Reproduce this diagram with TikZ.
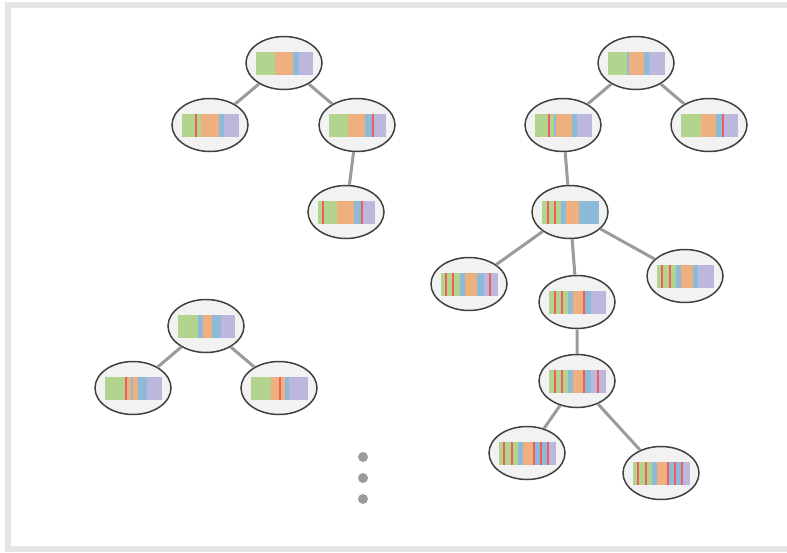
\documentclass[tikz,border=0pt]{standalone}
\usetikzlibrary{shapes.geometric}
\definecolor{cg}{HTML}{B3D48E}
\definecolor{co}{HTML}{EEB07E}
\definecolor{cb}{HTML}{8DBAD9}
\definecolor{cp}{HTML}{BCB7DC}
\definecolor{cr}{HTML}{F25C5C}
\definecolor{nodefill}{HTML}{F2F2F2}
\definecolor{nodeline}{HTML}{404040}
\definecolor{edgecol}{HTML}{9B9B9B}
\definecolor{framecol}{HTML}{E6E6E6}
\tikzset{
  seqnode/.style={ellipse, draw=nodeline, fill=nodefill, line width=1.5pt,
    minimum width=76pt, minimum height=53pt, inner sep=0pt},
  link/.style={draw=edgecol, line width=3pt},
  dot/.style={circle, fill=edgecol, minimum size=10pt, inner sep=0pt},
}
% colour bar inside a node: segments given as start/end/colour in px (bar is 57 wide)
\newcommand{\seqbar}[2]{%
  \begin{scope}[shift={(#1.center)}]
    \foreach \a/\b/\c in {#2}
      \fill[\c] (\a-28.5,-11.5) rectangle (\b-28.5,11.5);
  \end{scope}}
\begin{document}
\begin{tikzpicture}[x=1pt,y=-1pt]
\useasboundingbox (0,0) rectangle (787,552);
\begin{scope}
  \clip (0,0) rectangle (787,552);
  \draw[framecol, line width=6pt] (8,5) rectangle (830,549);
\end{scope}

% nodes
\node[seqnode] (n1) at (284,63) {};
\node[seqnode] (n2) at (210,125) {};
\node[seqnode] (n3) at (357,125) {};
\node[seqnode] (n4) at (346,212) {};
\node[seqnode] (n5) at (636,63) {};
\node[seqnode] (n6) at (563,125) {};
\node[seqnode] (n7) at (709,125) {};
\node[seqnode] (n8) at (570,212) {};
\node[seqnode] (n9) at (469,284) {};
\node[seqnode] (n10) at (577,302) {};
\node[seqnode] (n11) at (685,276) {};
\node[seqnode] (n12) at (577,381) {};
\node[seqnode] (n13) at (527,453) {};
\node[seqnode] (n14) at (661,473) {};
\node[seqnode] (n15) at (206,326) {};
\node[seqnode] (n16) at (133,388) {};
\node[seqnode] (n17) at (279,388) {};

% tree edges, node to node
\path[link] (n1) -- (n2) (n1) -- (n3) (n3) -- (n4)
  (n5) -- (n6) (n5) -- (n7) (n6) -- (n8)
  (n8) -- (n9) (n8) -- (n10) (n8) -- (n11)
  (n10) -- (n12) (n12) -- (n13) (n12) -- (n14)
  (n15) -- (n16) (n15) -- (n17);

% bars
\seqbar{n1}{0/19/cg,19/37/co,37/43/cb,43/57/cp}
\seqbar{n2}{0/19/cg,13/15/cr,19/37/co,37/42/cb,42/57/cp}
\seqbar{n3}{0/19/cg,19/36/co,36/43/cb,43/57/cp,43/45/cr}
\seqbar{n4}{0/19/cg,4.3/6.5/cr,19/36/co,36/43/cb,43/57/cp,43/45/cr}
\seqbar{n5}{0/19/cg,19/21/cb,21/36/co,36/41/cb,41/57/cp}
\seqbar{n6}{0/19/cg,13/15/cr,19/21/cb,21/37/co,37/42/cb,42/57/cp}
\seqbar{n7}{0/20/cg,20/35/co,35/41/cb,41/57/cp,41/43/cr}
\seqbar{n8}{0/19/cg,5.5/7.5/cr,12.5/14.5/cr,19/24.5/cb,24.5/37.5/co,37.5/57/cb}
\seqbar{n9}{0/19/cg,4.7/6.7/cr,11.7/13.7/cr,19/24/cb,24/36/co,36/43/cb,43/57/cp,48.5/50.5/cr}
\seqbar{n10}{0/19/cg,5/7/cr,12.7/14.7/cr,19/24/cb,24/34/co,34/36/cr,36/42/cb,42/57/cp}
\seqbar{n11}{0/19/cg,4.5/6.5/cr,12/14/cr,19/24/cb,24/36/co,36/41/cb,41/57/cp}
\seqbar{n12}{0/19/cg,5/7/cr,12.7/14.7/cr,19/24/cb,24/34/co,34/36/cr,36/42/cb,42/57/cp,48.5/50.5/cr}
\seqbar{n13}{0/19/cg,4.7/6.7/cr,12/14/cr,19/24/cb,24/34/co,34/36/cr,36/41/cb,41/43/cr,43/48/cb,48/50/cr,50/57/cp}
\seqbar{n14}{0/19/cg,4.7/6.7/cr,12/14/cr,19/24/cb,24/34/co,34/36/cr,36/41/cb,41/43/cr,43/48/cb,48/50/cr,50/57/cp}
\seqbar{n15}{0/20/cg,20/25/cb,25/34/co,34/43/cb,43/57/cp}
\seqbar{n16}{0/20/cg,20/22/cr,22/26/co,26/28/cb,28/33/co,33/42/cb,42/57/cp}
\seqbar{n17}{0/20/cg,20/28/co,28/30/cr,30/34/co,34/38/cb,38/57/cp}

% ellipsis dots
\node[dot] (d1) at (363,457) {};
\node[dot] (d2) at (363,478) {};
\node[dot] (d3) at (363,499) {};
\end{tikzpicture}
\end{document}
